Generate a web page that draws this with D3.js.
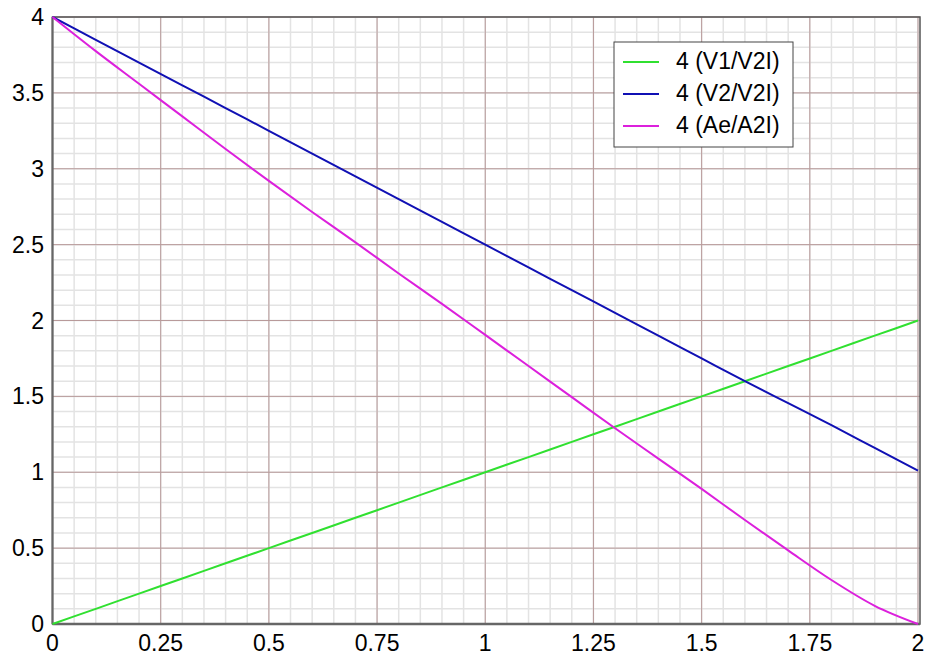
<!DOCTYPE html>
<html>
<head>
<meta charset="utf-8">
<script src="https://d3js.org/d3.v7.min.js"></script>
<style>
    body { margin: 0; background: #fff; }
    text { font-family: "Liberation Sans", Arial, sans-serif; }
</style>
</head>
<body>
<script>
(function(){

//data
var xValues = [0, 0.1, 0.2, 0.3, 0.4, 0.5, 0.6, 0.7, 0.8, 0.9, 1.0, 1.1, 1.2, 1.3, 1.4, 1.5, 1.6, 1.7, 1.8, 1.9, 2.0];
var v1Values = [0, 0.1, 0.2, 0.3, 0.4, 0.5, 0.6, 0.7, 0.8, 0.9, 1.0, 1.1, 1.2, 1.3, 1.4, 1.5, 1.6, 1.7, 1.8, 1.9, 2.0];
var v2Values = [4.0, 3.85, 3.70, 3.55, 3.40, 3.25, 3.10, 2.95, 2.80, 2.65, 2.50, 2.35, 2.20, 2.05, 1.90, 1.75, 1.60, 1.455, 1.31, 1.16, 1.01];
var aeValues = [4.0, 3.775, 3.56, 3.345, 3.13, 2.92, 2.715, 2.515, 2.31, 2.11, 1.905, 1.70, 1.495, 1.29, 1.09, 0.89, 0.685, 0.485, 0.29, 0.12, 0];
var seriesNames = ["4 (V1/V2I)", "4 (V2/V2I)", "4 (Ae/A2I)"];
var seriesColors = ["#30e030", "#1010b4", "#dc20dc"];
var xTicks = [0, 0.25, 0.5, 0.75, 1, 1.25, 1.5, 1.75, 2];
var yTicks = [0, 0.5, 1, 1.5, 2, 2.5, 3, 3.5, 4];

var width = 930,
    height = 658;

var svg = d3.select("body")
    .append("svg")
    .attr("width", width)
    .attr("height", height);

//scales
var x = d3.scaleLinear().domain([0, 2]).range([52.5, 918]);
var y = d3.scaleLinear().domain([0, 4]).range([624, 17]);

//minor grid
var xMinor = d3.range(0, 2.0001, 0.05),
    yMinor = d3.range(0, 4.0001, 0.1);

svg.selectAll(".xMinor")
    .data(xMinor)
    .enter()
    .append("line")
    .attr("class", "xMinor")
    .attr("x1", function(d){ return x(d); })
    .attr("x2", function(d){ return x(d); })
    .attr("y1", y(0))
    .attr("y2", y(4))
    .attr("stroke", "#e3e3e3")
    .attr("stroke-width", 1.5);

svg.selectAll(".yMinor")
    .data(yMinor)
    .enter()
    .append("line")
    .attr("class", "yMinor")
    .attr("x1", x(0))
    .attr("x2", 920)
    .attr("y1", function(d){ return y(d); })
    .attr("y2", function(d){ return y(d); })
    .attr("stroke", "#e3e3e3")
    .attr("stroke-width", 1.5);

//major grid
svg.selectAll(".xMajor")
    .data(xTicks)
    .enter()
    .append("line")
    .attr("class", "xMajor")
    .attr("x1", function(d){ return x(d); })
    .attr("x2", function(d){ return x(d); })
    .attr("y1", y(0))
    .attr("y2", y(4))
    .attr("stroke", "#b89a9a")
    .attr("stroke-width", 1);

svg.selectAll(".yMajor")
    .data(yTicks)
    .enter()
    .append("line")
    .attr("class", "yMajor")
    .attr("x1", x(0))
    .attr("x2", 920)
    .attr("y1", function(d){ return y(d); })
    .attr("y2", function(d){ return y(d); })
    .attr("stroke", "#b89a9a")
    .attr("stroke-width", 1);

//frame
svg.append("rect")
    .attr("x", x(0))
    .attr("y", y(4))
    .attr("width", 920 - x(0))
    .attr("height", y(0) - y(4))
    .attr("fill", "none")
    .attr("stroke", "#555")
    .attr("stroke-width", 1.5);

svg.append("line")
    .attr("x1", x(0)).attr("x2", 920)
    .attr("y1", y(0)).attr("y2", y(0))
    .attr("stroke", "#666").attr("stroke-width", 2.5);

svg.append("line")
    .attr("x1", x(0)).attr("x2", x(0))
    .attr("y1", y(0)).attr("y2", y(4))
    .attr("stroke", "#666").attr("stroke-width", 2);

//tick labels
svg.selectAll(".xLabel")
    .data(xTicks)
    .enter()
    .append("text")
    .attr("class", "xLabel")
    .attr("x", function(d){ return x(d); })
    .attr("y", 651)
    .attr("text-anchor", "middle")
    .attr("font-size", 23)
    .text(function(d){ return d; });

svg.selectAll(".yLabel")
    .data(yTicks)
    .enter()
    .append("text")
    .attr("class", "yLabel")
    .attr("x", 44)
    .attr("y", function(d){ return y(d) + 8; })
    .attr("text-anchor", "end")
    .attr("font-size", 23)
    .text(function(d){ return d; });

//lines
var allSeries = [v1Values, v2Values, aeValues];
var line = d3.line()
    .x(function(d, i){ return x(xValues[i]); })
    .y(function(d){ return y(d); })
    .curve(d3.curveMonotoneX);

svg.selectAll(".series")
    .data(allSeries)
    .enter()
    .append("path")
    .attr("class", "series")
    .attr("d", line)
    .attr("fill", "none")
    .attr("stroke", function(d, i){ return seriesColors[i]; })
    .attr("stroke-width", 2);

//legend
var legend = svg.append("g").attr("transform", "translate(614,42)");

legend.append("rect")
    .attr("width", 179)
    .attr("height", 105)
    .attr("fill", "#fff")
    .attr("stroke", "#444")
    .attr("stroke-width", 1);

var items = legend.selectAll(".item")
    .data(seriesNames)
    .enter()
    .append("g")
    .attr("class", "item")
    .attr("transform", function(d, i){ return "translate(0," + (20 + i * 32) + ")"; });

items.append("line")
    .attr("x1", 9).attr("x2", 45)
    .attr("stroke", function(d, i){ return seriesColors[i]; })
    .attr("stroke-width", 2);

items.append("text")
    .attr("x", 62)
    .attr("y", 7)
    .attr("font-size", 23)
    .text(function(d){ return d; });

})();
</script>
</body>
</html>
